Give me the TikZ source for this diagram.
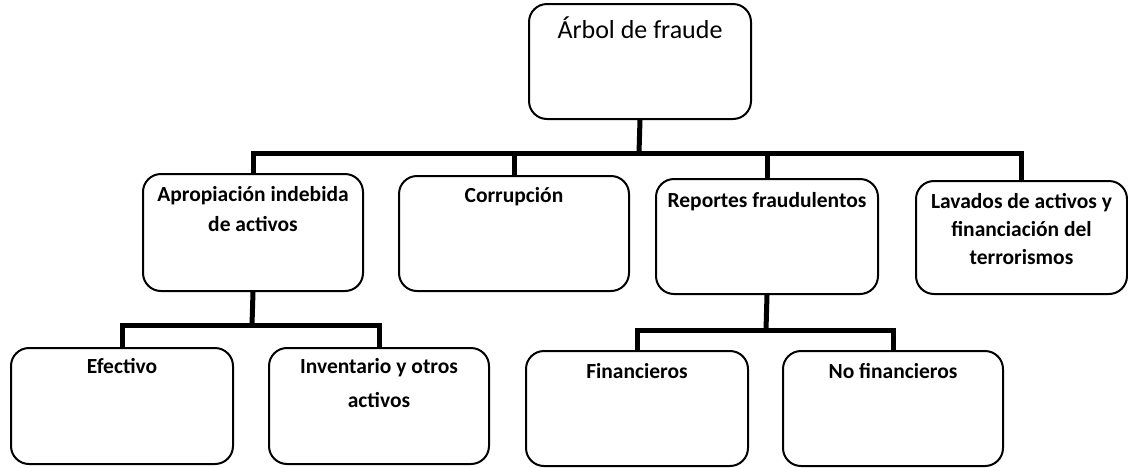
\documentclass[tikz,border=0pt]{standalone}
\usepackage{fontspec}
\setmainfont{Carlito}
\usetikzlibrary{calc}
\tikzset{
  box/.style={draw=black, line width=2pt, rounded corners=18pt, fill=white, inner sep=0pt},
  conn/.style={draw=black, line width=5pt},
  lbl/.style={anchor=north, inner sep=0pt, align=center, font=\fontsize{21.5}{30}\selectfont\bfseries},
}
\newcommand{\mkbox}[5]{\node[box, anchor=north west, minimum width=#4pt-#2pt, minimum height=#5pt-#3pt] (#1) at (#2,#3) {};}
\begin{document}
\begin{tikzpicture}[x=1pt,y=-1pt]
\useasboundingbox (0,0) rectangle (1128,467);
% boxes
\mkbox{root}{528}{3}{750}{118}
\mkbox{apro}{142}{173}{362}{290}
\mkbox{corr}{398}{175}{628}{290}
\mkbox{repo}{655}{178}{877}{293}
\mkbox{lav}{915}{180}{1126}{293}
\mkbox{efec}{10}{347}{232}{463}
\mkbox{inv}{268}{347}{488}{463}
\mkbox{fin}{525}{350}{747}{465}
\mkbox{nofin}{782}{350}{1002}{465}
% texts
\node[lbl, font=\fontsize{26}{30}\selectfont] (troot) at ($(root.north)+(0,14)$) {Árbol de fraude};
\node[lbl] (tapro) at ($(apro.north)+(0,13)$) {Apropiación indebida\\de activos};
\node[lbl] (tcorr) at ($(corr.north)+(0,12)$) {Corrupción};
\node[lbl] (trepo) at ($(repo.north)+(0,14)$) {Reportes fraudulentos};
\node[lbl, font=\fontsize{21.5}{28}\selectfont\bfseries] (tlav) at ($(lav.north)+(0,13)$) {Lavados de activos y\\financiación del\\terrorismos};
\node[lbl] (tefec) at ($(efec.north)+(0,11)$) {Efectivo};
\node[lbl, font=\fontsize{21.5}{34}\selectfont\bfseries] (tinv) at ($(inv.north)+(0,11)$) {Inventario y otros\\activos};
\node[lbl] (tfin) at ($(fin.north)+(0,13)$) {Financieros};
\node[lbl] (tnofin) at ($(nofin.north)+(0,13)$) {No financieros};
% connectors
\coordinate (j1) at (639,153);
\coordinate (j2) at (252,325);
\coordinate (j3) at (766,330);
\draw[conn] (root.south) -- (j1);
\draw[conn] (apro.north) |- (j1);
\draw[conn] (corr.north) |- (j1);
\draw[conn] (repo.north) |- (j1);
\draw[conn] (lav.north) |- (j1);
\draw[conn] (apro.south) -- (j2);
\draw[conn] (efec.north) |- (j2);
\draw[conn] (inv.north) |- (j2);
\draw[conn] (repo.south) -- (j3);
\draw[conn] (fin.north) |- (j3);
\draw[conn] (nofin.north) |- (j3);
\end{tikzpicture}
\end{document}
